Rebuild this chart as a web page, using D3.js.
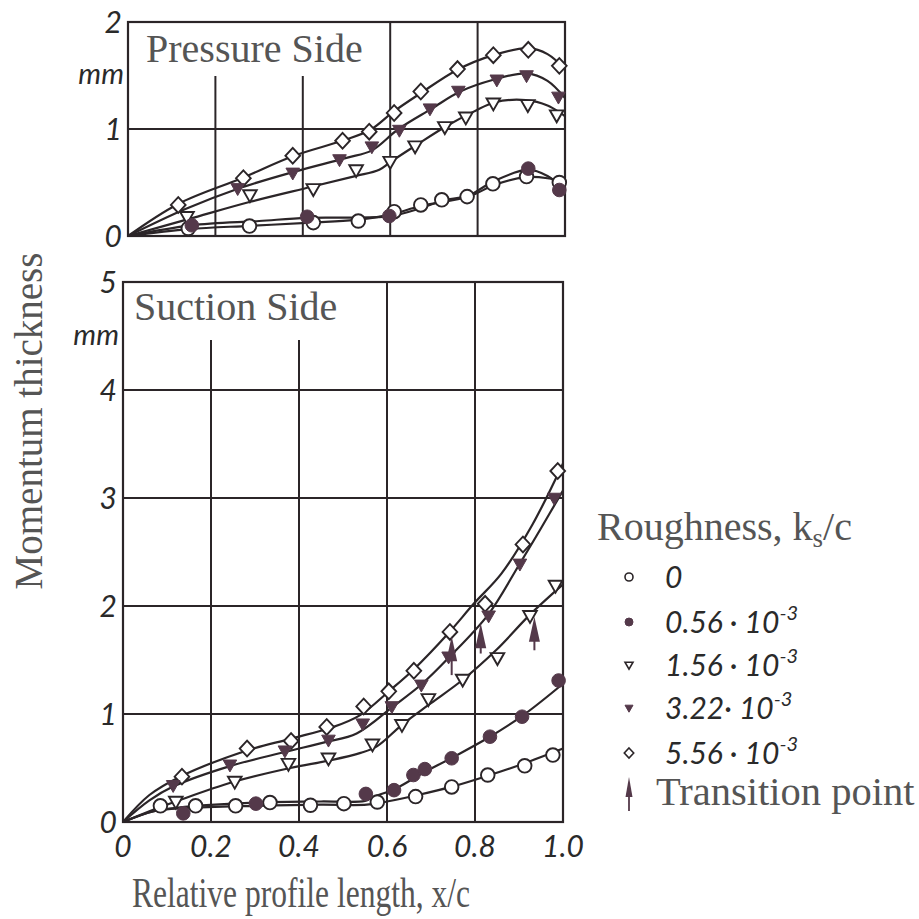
<!DOCTYPE html>
<html><head><meta charset="utf-8">
<script src="https://cdn.jsdelivr.net/npm/d3@7"></script>
<style>html,body{margin:0;padding:0;background:#fff;} svg{display:block;}</style>
</head><body>
<script>
// ---- data ----
const xTicks = [0, 0.2, 0.4, 0.6, 0.8, 1.0];
const xTickLabels = ["0", "0.2", "0.4", "0.6", "0.8", "1.0"];
const pressureTicks = [0, 1, 2];
const suctionTicks = [0, 1, 2, 3, 4, 5];
const roughnessKeys = ["0", "0.56", "1.56", "3.22", "5.56"];

// Pressure side, measured points [x/c, theta mm]
const pressure_0    = [[0.138,0.07],[0.278,0.093],[0.424,0.125],[0.527,0.14],[0.609,0.227],[0.67,0.29],[0.718,0.338],[0.776,0.368],[0.835,0.488],[0.912,0.555],[0.987,0.5]];
const pressure_056  = [[0.146,0.1],[0.41,0.18],[0.598,0.187],[0.916,0.63],[0.987,0.43]];
const pressure_156  = [[0.135,0.18],[0.279,0.383],[0.424,0.44],[0.522,0.617],[0.6,0.695],[0.657,0.84],[0.725,1.02],[0.773,1.11],[0.836,1.24],[0.915,1.225],[0.981,1.13]];
const pressure_322  = [[0.251,0.445],[0.377,0.59],[0.484,0.715],[0.558,0.835],[0.621,0.99],[0.691,1.19],[0.756,1.355],[0.844,1.46],[0.912,1.5],[0.985,1.3]];
const pressure_556  = [[0.115,0.29],[0.264,0.54],[0.377,0.75],[0.491,0.89],[0.552,0.975],[0.609,1.15],[0.67,1.35],[0.754,1.56],[0.836,1.69],[0.916,1.74],[0.987,1.59]];

// Pressure side, faired curves
const pressureFit_0   = [[0,0],[0.14,0.065],[0.28,0.095],[0.42,0.125],[0.52,0.15],[0.6,0.2],[0.67,0.28],[0.78,0.37],[0.84,0.48],[0.91,0.55],[0.96,0.54],[1.0,0.5]];
const pressureFit_056 = [[0,0],[0.145,0.1],[0.3,0.14],[0.41,0.17],[0.598,0.185],[0.67,0.26],[0.72,0.33],[0.78,0.38],[0.836,0.51],[0.916,0.62],[0.96,0.56],[1.0,0.43]];
const pressureFit_156 = [[0,0],[0.14,0.16],[0.28,0.32],[0.42,0.46],[0.52,0.56],[0.575,0.62],[0.6,0.69],[0.66,0.85],[0.73,1.03],[0.79,1.16],[0.84,1.25],[0.91,1.27],[0.96,1.22],[1.0,1.12]];
const pressureFit_322 = [[0,0],[0.13,0.25],[0.25,0.44],[0.38,0.6],[0.5,0.73],[0.558,0.8],[0.619,1.0],[0.695,1.19],[0.76,1.35],[0.836,1.46],[0.912,1.52],[0.96,1.45],[1.0,1.29]];
const pressureFit_556 = [[0,0],[0.115,0.3],[0.26,0.54],[0.38,0.75],[0.49,0.89],[0.554,0.99],[0.607,1.16],[0.668,1.33],[0.752,1.55],[0.836,1.69],[0.916,1.755],[0.96,1.7],[1.0,1.56]];

// Suction side, measured points
const suction_0   = [[0.085,0.15],[0.165,0.15],[0.256,0.15],[0.334,0.18],[0.426,0.155],[0.502,0.17],[0.578,0.185],[0.665,0.235],[0.747,0.325],[0.829,0.435],[0.913,0.52],[0.977,0.62]];
const suction_056 = [[0.137,0.08],[0.302,0.17],[0.552,0.26],[0.616,0.295],[0.66,0.435],[0.686,0.49],[0.747,0.59],[0.834,0.79],[0.907,0.975],[0.99,1.31]];
const suction_156 = [[0.12,0.19],[0.254,0.375],[0.376,0.54],[0.467,0.59],[0.567,0.72],[0.634,0.9],[0.694,1.14],[0.772,1.32],[0.851,1.52],[0.925,1.91],[0.983,2.19]];
const suction_322 = [[0.114,0.34],[0.243,0.53],[0.368,0.66],[0.467,0.76],[0.545,0.91],[0.611,1.07],[0.678,1.27],[0.74,1.53],[0.831,1.91],[0.902,2.39],[0.98,3.0]];
const suction_556 = [[0.134,0.42],[0.282,0.68],[0.382,0.75],[0.463,0.88],[0.547,1.07],[0.604,1.21],[0.661,1.40],[0.743,1.76],[0.823,2.02],[0.909,2.57],[0.988,3.25]];

// Suction side, faired curves
const suctionFit_0   = [[0,0],[0.07,0.1],[0.144,0.13],[0.3,0.15],[0.45,0.16],[0.554,0.16],[0.6,0.19],[0.67,0.25],[0.75,0.33],[0.83,0.43],[0.91,0.54],[1.0,0.68]];
const suctionFit_056 = [[0,0],[0.07,0.1],[0.14,0.14],[0.3,0.18],[0.45,0.19],[0.55,0.195],[0.568,0.23],[0.62,0.31],[0.68,0.45],[0.75,0.6],[0.83,0.78],[0.91,0.99],[1.0,1.28]];
const suctionFit_156 = [[0,0],[0.06,0.1],[0.12,0.19],[0.25,0.37],[0.38,0.5],[0.47,0.57],[0.54,0.64],[0.577,0.7],[0.634,0.9],[0.7,1.1],[0.77,1.31],[0.85,1.6],[0.925,1.92],[1.0,2.2]];
const suctionFit_322 = [[0,0],[0.06,0.2],[0.115,0.33],[0.245,0.52],[0.37,0.65],[0.46,0.74],[0.531,0.82],[0.614,1.07],[0.68,1.28],[0.74,1.52],[0.83,1.92],[0.9,2.38],[0.95,2.72],[1.0,3.07]];
const suctionFit_556 = [[0,0],[0.06,0.25],[0.13,0.42],[0.28,0.66],[0.38,0.77],[0.478,0.88],[0.539,0.99],[0.607,1.22],[0.66,1.41],[0.74,1.75],[0.797,2.02],[0.86,2.3],[0.93,2.75],[1.0,3.32]];

// Transition points on the suction side: [x/c, arrow tail, arrow tip]
const transitionX    = [0.747, 0.813, 0.935];
const transitionTail = [1.36, 1.56, 1.59];
const transitionTip  = [1.72, 1.84, 1.9];

// ---- drawing ----
const W = 919, H = 919;
const INK = "#2b2528", MARK = "#54394a", GREY = "#555";
const SERIF = "'Liberation Serif', 'Times New Roman', serif";
const SANS_IT = "Lato, 'Open Sans', sans-serif";
const svg = d3.select("body").append("svg").attr("width", W).attr("height", H);

const panels = [
  { name: "Pressure Side", ticks: pressureTicks, xr: [128, 565], yr: [236, 22], top: 2,
    gridFrom: 76, titleY: 62, pts: [pressure_0, pressure_056, pressure_156, pressure_322, pressure_556],
    fits: [pressureFit_0, pressureFit_056, pressureFit_156, pressureFit_322, pressureFit_556] },
  { name: "Suction Side", ticks: suctionTicks, xr: [123, 563], yr: [822, 282], top: 5,
    gridFrom: 340, titleY: 320, pts: [suction_0, suction_056, suction_156, suction_322, suction_556],
    fits: [suctionFit_0, suctionFit_056, suctionFit_156, suctionFit_322, suctionFit_556] }
];

const markerType = ["circle", "dot", "tri", "triFill", "diamond"];
function markerPath(type, s) {
  if (type === "circle" || type === "dot") return d3.symbol(d3.symbolCircle, Math.PI * s * s)();
  if (type === "tri" || type === "triFill") return `M${-s},${-s * 0.7}L${s},${-s * 0.7}L0,${s * 1.05}Z`;
  return `M0,${-s * 1.12}L${s * 1.05},0L0,${s * 1.12}L${-s * 1.05},0Z`;
}
function drawMarker(g, type, s) {
  const filled = type === "dot" || type === "triFill";
  return g.append("path").attr("d", markerPath(type, s))
    .attr("fill", filled ? MARK : "#fff")
    .attr("stroke", filled ? MARK : INK)
    .attr("stroke-width", filled ? 1 : 1.9);
}

panels.forEach((p, pi) => {
  const x = d3.scaleLinear().domain([0, 1]).range(p.xr);
  const y = d3.scaleLinear().domain([0, p.top]).range(p.yr);
  p.x = x; p.y = y;
  const g = svg.append("g");

  // vertical grid lines (0.2 and 0.4 stop below the panel title)
  xTicks.slice(1, -1).forEach(t => {
    g.append("line").attr("x1", x(t)).attr("x2", x(t))
      .attr("y1", t < 0.5 ? p.gridFrom : y(p.top)).attr("y2", y(0))
      .attr("stroke", INK).attr("stroke-width", 2);
  });
  // horizontal grid lines
  p.ticks.slice(1, -1).forEach(t => {
    g.append("line").attr("x1", x(0)).attr("x2", x(1)).attr("y1", y(t)).attr("y2", y(t))
      .attr("stroke", INK).attr("stroke-width", 2);
  });
  g.append("rect").attr("x", x(0)).attr("y", y(p.top)).attr("width", x(1) - x(0)).attr("height", y(0) - y(p.top))
    .attr("fill", "none").attr("stroke", INK).attr("stroke-width", 2.2);

  // y tick labels
  p.ticks.forEach(t => {
    g.append("text").attr("x", x(0) - 6).attr("y", y(t)).attr("dy", "0.36em")
      .attr("text-anchor", "end").attr("font-family", SANS_IT).attr("font-style", "italic")
      .attr("font-size", 30).attr("fill", "#2a2a2a").text(t);
  });
  g.append("text").attr("x", x(0) - 4).attr("y", y(p.top - 0.5)).attr("dy", "0.3em")
    .attr("text-anchor", "end").attr("font-family", SANS_IT).attr("font-style", "italic")
    .attr("font-size", 29).attr("fill", "#2a2a2a").text("mm");

  // panel title
  g.append("text").attr("x", x(0) + (pi === 0 ? 18 : 11)).attr("y", p.titleY)
    .attr("font-family", SERIF).attr("font-size", 40).attr("fill", GREY).text(p.name);

  // faired curves
  const line = d3.line().x(d => x(d[0])).y(d => y(d[1])).curve(d3.curveCatmullRom.alpha(0.5));
  p.fits.forEach(f => {
    g.append("path").attr("d", line(f)).attr("fill", "none").attr("stroke", INK).attr("stroke-width", 2.2);
  });

  // measured points
  [0, 2, 4, 1, 3].forEach(si => {
    p.pts[si].forEach(d => {
      drawMarker(g, markerType[si], si === 4 ? 7 : 6.8)
        .attr("transform", `translate(${x(d[0])},${y(d[1])})`);
    });
  });
});

// transition arrows on the suction side
function arrow(g, cx, yTail, yTip, headLen, headHalf, w) {
  g.append("line").attr("x1", cx).attr("x2", cx).attr("y1", yTail).attr("y2", yTip + headLen * 0.5)
    .attr("stroke", MARK).attr("stroke-width", w);
  g.append("path").attr("d", `M${cx},${yTip}L${cx + headHalf},${yTip + headLen}L${cx - headHalf},${yTip + headLen}Z`)
    .attr("fill", MARK);
}
const sp = panels[1];
const ag = svg.append("g");
transitionX.forEach((tx, i) => {
  arrow(ag, sp.x(tx), sp.y(transitionTail[i]), sp.y(transitionTip[i]), 25, 5.5, 2);
});

// x axis tick labels
const xb = panels[1].x;
xTicks.forEach((t, i) => {
  svg.append("text").attr("x", xb(t)).attr("y", 857).attr("text-anchor", "middle")
    .attr("font-family", SANS_IT).attr("font-style", "italic").attr("font-size", 30)
    .attr("fill", "#2a2a2a").text(xTickLabels[i]);
});

// axis titles
svg.append("text").attr("x", 301).attr("y", 907).attr("text-anchor", "middle")
  .attr("font-family", SERIF).attr("font-size", 42).attr("fill", GREY)
  .attr("textLength", 338).attr("lengthAdjust", "spacingAndGlyphs")
  .text("Relative profile length, x/c");
svg.append("text").attr("transform", "translate(42,421) rotate(-90)").attr("text-anchor", "middle")
  .attr("font-family", SERIF).attr("font-size", 39).attr("fill", GREY)
  .text("Momentum thickness");

// legend
const lg = svg.append("g");
const ttl = lg.append("text").attr("x", 597).attr("y", 540).attr("font-family", SERIF)
  .attr("font-size", 40).attr("fill", GREY);
ttl.append("tspan").text("Roughness, k");
ttl.append("tspan").attr("font-size", 27).attr("dy", 7).text("s");
ttl.append("tspan").attr("dy", -7).text("/c");

const rowY = [577, 622, 665, 708, 753];
const legendMark = ["circle", "dot", "tri", "triFill", "diamond"];
roughnessKeys.forEach((k, i) => {
  const sz = i === 4 ? 4.5 : 4;
  const m = drawMarker(lg, legendMark[i], sz).attr("transform", `translate(629,${rowY[i]})`);
  if (legendMark[i] === "circle" || legendMark[i] === "diamond" || legendMark[i] === "tri") m.attr("stroke-width", 1.6);
  const t = lg.append("text").attr("x", 665).attr("y", rowY[i]).attr("dy", "0.36em")
    .attr("font-family", SANS_IT).attr("font-style", "italic").attr("font-size", 30).attr("fill", "#2a2a2a");
  t.append("tspan").text(k);
  if (k !== "0") {
    t.append("tspan").text(i === 3 ? "· 10" : " · 10");
    t.append("tspan").attr("font-size", 20).attr("dy", -13).text("-3");
  }
});
arrow(lg, 629, 811, 777, 20, 3.5, 1.8);
lg.append("text").attr("x", 656).attr("y", 805).attr("font-family", SERIF)
  .attr("font-size", 40.5).attr("fill", GREY).text("Transition point");
</script>
</body></html>
